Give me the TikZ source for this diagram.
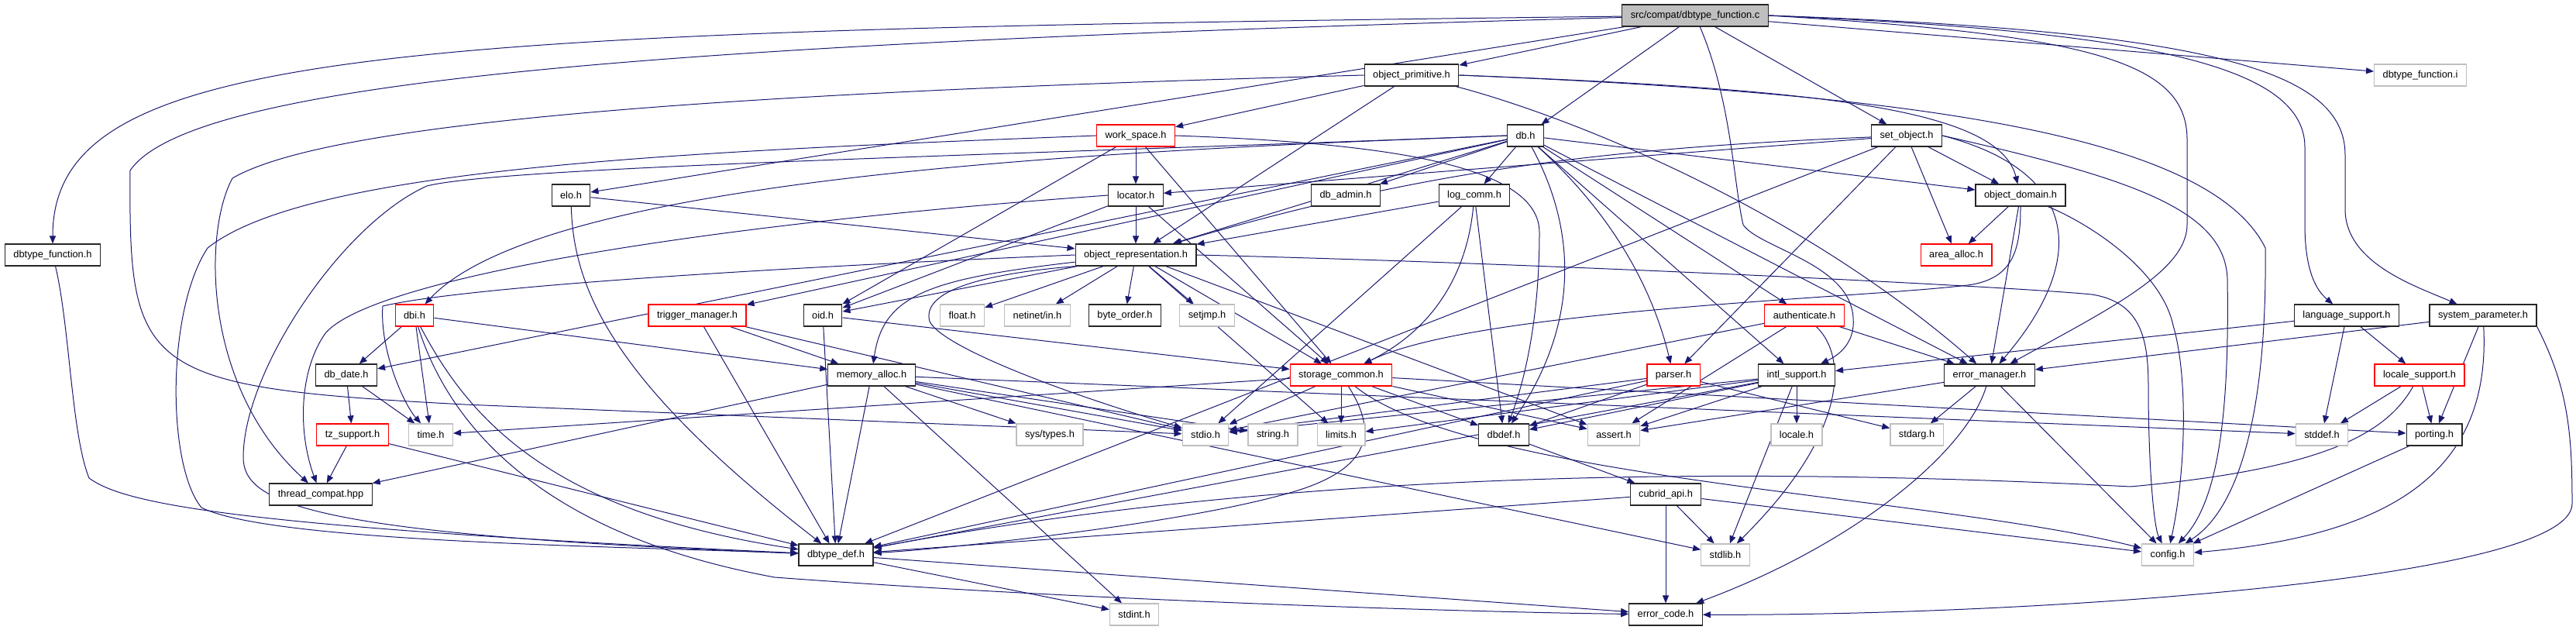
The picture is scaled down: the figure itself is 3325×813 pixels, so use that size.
\documentclass[tikz,border=0pt]{standalone}
\usepackage{fontspec}
\setmainfont{Liberation Sans}
\usepackage{xcolor}
\definecolor{incblue}{RGB}{25,25,112}
\definecolor{boxred}{RGB}{255,0,0}
\definecolor{boxgray}{RGB}{191,191,191}
\usepackage{tikz}
\usetikzlibrary{arrows.meta, backgrounds}

\tikzset{
  hdr/.style={draw=black!85, fill=white, line width=1.2pt, minimum height=28pt,
              inner xsep=11pt, inner ysep=0pt, font=\fontsize{12.8}{14}\selectfont},
  redhdr/.style={hdr, draw=boxred},
  syshdr/.style={hdr, draw=boxgray},
  inc/.style={-{Triangle[length=10pt,width=8pt]}, incblue, line width=1pt}
}

\begin{document}
\begin{tikzpicture}[x=1pt,y=1pt]
  \useasboundingbox (0,0) rectangle (3325,-813);

  % headers, row by row
  \node[hdr, fill=boxgray] (root) at (2188,-20) {src/compat/dbtype\_function.c};

  \node[hdr]    (objprim)   at (1822,-97)  {object\_primitive.h};
  \node[syshdr] (dbtfi)     at (3124,-97)  {dbtype\_function.i};

  \node[redhdr] (workspace) at (1466,-175) {work\_space.h};
  \node[hdr]    (db)        at (1969,-175) {db.h};
  \node[hdr]    (setobj)    at (2461,-175) {set\_object.h};

  \node[hdr]    (elo)       at (737,-252)  {elo.h};
  \node[hdr]    (locator)   at (1466,-252) {locator.h};
  \node[hdr]    (dbadmin)   at (1737,-252) {db\_admin.h};
  \node[hdr]    (logcomm)   at (1903,-252) {log\_comm.h};
  \node[hdr]    (objdomain) at (2608,-252) {object\_domain.h};

  \node[hdr]    (dbtfh)     at (68,-329)   {dbtype\_function.h};
  \node[hdr]    (objrep)    at (1466,-329) {object\_representation.h};
  \node[redhdr] (areaalloc) at (2525,-329) {area\_alloc.h};

  \node[redhdr] (dbi)       at (535,-407)  {dbi.h};
  \node[redhdr] (trigger)   at (900,-407)  {trigger\_manager.h};
  \node[hdr]    (oid)       at (1062,-407) {oid.h};
  \node[syshdr] (floath)    at (1242,-407) {float.h};
  \node[syshdr] (netinet)   at (1339,-407) {netinet/in.h};
  \node[hdr]    (byteorder) at (1452,-407) {byte\_order.h};
  \node[syshdr] (setjmp)    at (1558,-407) {setjmp.h};
  \node[redhdr] (authen)    at (2329,-407) {authenticate.h};
  \node[hdr]    (langsup)   at (3029,-407) {language\_support.h};
  \node[hdr]    (syspar)    at (3205,-407) {system\_parameter.h};

  \node[hdr]    (dbdate)    at (447,-484)  {db\_date.h};
  \node[hdr]    (memalloc)  at (1125,-484) {memory\_alloc.h};
  \node[redhdr] (storage)   at (1731,-484) {storage\_common.h};
  \node[redhdr] (parser)    at (2160,-484) {parser.h};
  \node[hdr]    (intlsup)   at (2319,-484) {intl\_support.h};
  \node[hdr]    (errmgr)    at (2568,-484) {error\_manager.h};
  \node[redhdr] (localesup) at (3123,-484) {locale\_support.h};

  \node[redhdr] (tzsup)     at (455,-561)  {tz\_support.h};
  \node[syshdr] (timeh)     at (556,-561)  {time.h};
  \node[syshdr] (systypes)  at (1355,-561) {sys/types.h};
  \node[syshdr] (stdio)     at (1556,-561) {stdio.h};
  \node[syshdr] (stringh)   at (1643,-561) {string.h};
  \node[syshdr] (limits)    at (1731,-561) {limits.h};
  \node[hdr]    (dbdef)     at (1941,-561) {dbdef.h};
  \node[syshdr] (asserth)   at (2083,-561) {assert.h};
  \node[syshdr] (localeh)   at (2319,-561) {locale.h};
  \node[syshdr] (stdarg)    at (2474,-561) {stdarg.h};
  \node[syshdr] (stddefh)   at (2997,-561) {stddef.h};
  \node[hdr]    (porting)   at (3142,-561) {porting.h};

  \node[hdr]    (threadc)   at (414,-638)  {thread\_compat.hpp};
  \node[hdr]    (cubridapi) at (2150,-638) {cubrid\_api.h};

  \node[hdr]    (dbtypedef) at (1079,-716) {dbtype\_def.h};
  \node[syshdr] (stdlib)    at (2227,-716) {stdlib.h};
  \node[syshdr] (config)    at (2798,-716) {config.h};

  \node[syshdr] (stdint)    at (1464,-793) {stdint.h};
  \node[hdr]    (errcode)   at (2150,-793) {error\_code.h};

  \begin{scope}[on background layer]
    % the source file
    \draw[inc] (root) .. controls (500,-40) and (68,-60) .. (dbtfh);
    \draw[inc] (root) .. controls (900,-55) and (250,-100) .. (168,-220)
               .. controls (166,-480) and (180,-500) .. (600,-522) -- (stdio);
    \draw[inc] (root) -- (elo);
    \draw[inc] (root) -- (objprim);
    \draw[inc] (root) -- (db);
    \draw[inc] (root) -- (setobj);
    \draw[inc] (root) -- (dbtfi);
    \draw[inc] (root.east) .. controls (2750,-40) and (2975,-80) .. (2975,-190) -- (2975,-290)
               .. controls (2975,-350) and (2990,-375) .. (langsup);
    \draw[inc] (root.east) .. controls (2850,-40) and (3027,-90) .. (3027,-200) -- (3027,-270)
               .. controls (3027,-340) and (3120,-370) .. (syspar);
    \draw[inc] (root.east) .. controls (2700,-45) and (2823,-80) .. (2823,-180) -- (2823,-290)
               .. controls (2823,-350) and (2720,-400) .. (errmgr);
    \draw[inc] (root) .. controls (2235,-130) and (2238,-240) .. (2250,-290)
               .. controls (2270,-320) and (2388,-340) .. (2392,-410)
               .. controls (2395,-445) and (2370,-460) .. (intlsup);

    % object_primitive.h
    \draw[inc] (objprim) -- (workspace);
    \draw[inc] (objprim) -- (objrep);
    \draw[inc] (objprim.east) .. controls (2350,-115) and (2580,-140) .. (objdomain);
    \draw[inc] (objprim.east) .. controls (2450,-120) and (2850,-170) .. (2924,-320)
               .. controls (2926,-500) and (2900,-650) .. (config);
    \draw[inc] (objprim.west) .. controls (900,-120) and (420,-160) .. (300,-230)
               .. controls (262,-300) and (262,-500) .. (threadc);
    \draw[inc] (objprim) .. controls (1990,-140) and (2300,-250) .. (errmgr);

    % work_space.h
    \draw[inc] (workspace) -- (locator);
    \draw[inc] (workspace) -- (oid);
    \draw[inc] (workspace) -- (storage);
    \draw[inc] (workspace.east) .. controls (1800,-185) and (1987,-215) .. (1987,-300)
               .. controls (1987,-420) and (1965,-500) .. (dbdef);
    \draw[inc] (workspace.west) .. controls (900,-195) and (400,-215) .. (268,-320)
               .. controls (215,-400) and (215,-600) .. (260,-655)
               .. controls (350,-700) and (800,-705) .. (dbtypedef);

    % db.h
    \draw[inc] (db) -- (dbadmin);
    \draw[inc] (db) -- (logcomm);
    \draw[inc] (db) -- (objrep);
    \draw[inc] (db) -- (objdomain);
    \draw[inc] (db) -- (authen);
    \draw[inc] (db) -- (intlsup);
    \draw[inc] (db) -- (errmgr);
    \draw[inc] (db) -- (trigger);
    \draw[inc] (db) -- (dbdate);
    \draw[inc] (db) .. controls (2071,-267) and (2130,-360) .. (parser);
    \draw[inc] (db) .. controls (2037,-300) and (2037,-420) .. (dbdef);
    \draw[inc] (db.west) .. controls (1400,-195) and (700,-230) .. (dbi);
    \draw[inc] (db.west) .. controls (1300,-200) and (650,-215) .. (551,-240)
               .. controls (440,-290) and (314,-480) .. (314,-590)
               .. controls (314,-650) and (400,-690) .. (dbtypedef);

    % set_object.h
    \draw[inc] (setobj) -- (objdomain);
    \draw[inc] (setobj) -- (areaalloc);
    \draw[inc] (setobj) -- (locator);
    \draw[inc] (setobj) .. controls (2100,-190) and (1850,-215) .. (objrep);
    \draw[inc] (setobj) -- (parser);
    \draw[inc] (setobj) -- (dbtypedef);
    \draw[inc] (setobj.east) .. controls (2680,-220) and (2700,-330) .. (errmgr);
    \draw[inc] (setobj.east) .. controls (2750,-230) and (2872,-270) .. (2875,-360)
               .. controls (2878,-550) and (2860,-650) .. (config);

    % elo.h, locator.h, log_comm.h
    \draw[inc] (elo) -- (objrep);
    \draw[inc] (elo) .. controls (740,-380) and (800,-500) .. (dbtypedef);
    \draw[inc] (locator) -- (objrep);
    \draw[inc] (locator) -- (oid);
    \draw[inc] (locator) -- (storage);
    \draw[inc] (locator.west) .. controls (900,-290) and (480,-360) .. (420,-430)
               .. controls (385,-480) and (385,-560) .. (threadc);
    \draw[inc] (logcomm) -- (objrep);
    \draw[inc] (logcomm) -- (stdio);
    \draw[inc] (logcomm) -- (dbdef);
    \draw[inc] (logcomm) .. controls (1895,-340) and (1860,-420) .. (storage);

    % object_domain.h
    \draw[inc] (objdomain) -- (areaalloc);
    \draw[inc] (objdomain) -- (errmgr);
    \draw[inc] (objdomain) .. controls (2700,-290) and (2790,-350) .. (2805,-420)
               .. controls (2823,-480) and (2823,-600) .. (config);
    \draw[inc] (objdomain) .. controls (2608,-320) and (2600,-360) .. (2540,-368)
               .. controls (2400,-385) and (1900,-400) .. (storage);

    % object_representation.h
    \draw[inc] (objrep) -- (floath);
    \draw[inc] (objrep) -- (netinet);
    \draw[inc] (objrep) -- (byteorder);
    \draw[inc] (objrep) -- (setjmp);
    \draw[inc] (objrep) -- (oid);
    \draw[inc] (objrep) -- (storage);
    \draw[inc] (objrep) -- (asserth);
    \draw[inc] (objrep) -- (limits);
    \draw[inc] (objrep) .. controls (1200,-360) and (1140,-380) .. (memalloc);
    \draw[inc] (objrep.south west) .. controls (1250,-355) and (1190,-380) .. (1200,-415)
               .. controls (1215,-445) and (1350,-500) .. (stdio);
    \draw[inc] (objrep.west) .. controls (1000,-345) and (600,-370) .. (494,-395)
               .. controls (490,-450) and (520,-520) .. (timeh);
    \draw[inc] (objrep.east) .. controls (2000,-340) and (2600,-370) .. (2700,-380)
               .. controls (2765,-390) and (2773,-440) .. (2773,-500)
               .. controls (2773,-600) and (2780,-680) .. (config);

    % dbtype_function.h, dbi.h
    \draw[inc] (dbtfh) .. controls (90,-420) and (92,-560) .. (115,-617)
               .. controls (160,-650) and (300,-680) .. (dbtypedef);
    \draw[inc] (dbi) -- (dbdate);
    \draw[inc] (dbi) -- (timeh);
    \draw[inc] (dbi) -- (memalloc);
    \draw[inc] (dbi) .. controls (600,-530) and (700,-660) .. (dbtypedef);
    \draw[inc] (dbi) .. controls (580,-550) and (700,-690) .. (1000,-745)
               .. controls (1400,-775) and (1900,-790) .. (errcode);

    % trigger_manager.h, oid.h, authenticate.h
    \draw[inc] (trigger) -- (memalloc);
    \draw[inc] (trigger) -- (dbtypedef);
    \draw[inc] (trigger) -- (stdio);
    \draw[inc] (oid) -- (storage);
    \draw[inc] (oid) -- (dbtypedef);
    \draw[inc] (authen) -- (errmgr);
    \draw[inc] (authen) -- (stdio);
    \draw[inc] (authen) -- (asserth);
    \draw[inc] (authen) .. controls (2385,-460) and (2385,-560) .. (stdlib);

    % language_support.h, system_parameter.h
    \draw[inc] (langsup) -- (intlsup);
    \draw[inc] (langsup) -- (localesup);
    \draw[inc] (langsup) -- (stddefh);
    \draw[inc] (syspar) -- (errmgr);
    \draw[inc] (syspar) -- (porting);
    \draw[inc] (syspar) .. controls (3215,-600) and (3100,-690) .. (config);
    \draw[inc] (syspar.south east) .. controls (3315,-500) and (3320,-560) .. (3320,-650)
               .. controls (3320,-750) and (2600,-795) .. (errcode);

    % db_date.h, memory_alloc.h
    \draw[inc] (dbdate) -- (tzsup);
    \draw[inc] (dbdate) -- (timeh);
    \draw[inc] (memalloc) -- (dbtypedef);
    \draw[inc] (memalloc) -- (stdint);
    \draw[inc] (memalloc) -- (systypes);
    \draw[inc] (memalloc) -- (stdio);
    \draw[inc] (memalloc) -- (threadc);
    \draw[inc] (memalloc) -- (stringh);
    \draw[inc] (memalloc) -- (stdlib);
    \draw[inc] (memalloc) -- (stddefh);

    % storage_common.h
    \draw[inc] (storage) -- (stdio);
    \draw[inc] (storage) -- (limits);
    \draw[inc] (storage) -- (dbdef);
    \draw[inc] (storage) -- (asserth);
    \draw[inc] (storage) -- (porting);
    \draw[inc] (storage) -- (timeh);
    \draw[inc] (storage) .. controls (1900,-620) and (2500,-640) .. (config);
    \draw[inc] (storage) .. controls (1780,-560) and (1770,-610) .. (1650,-640)
               .. controls (1500,-680) and (1200,-710) .. (dbtypedef);

    % parser.h, intl_support.h
    \draw[inc] (parser) -- (stdio);
    \draw[inc] (parser) -- (dbdef);
    \draw[inc] (parser) -- (dbtypedef);
    \draw[inc] (parser) -- (stdarg);
    \draw[inc] (intlsup) -- (localeh);
    \draw[inc] (intlsup) -- (stdlib);
    \draw[inc] (intlsup) -- (stdio);
    \draw[inc] (intlsup) -- (dbdef);
    \draw[inc] (intlsup) -- (asserth);
    \draw[inc] (intlsup) -- (dbtypedef);
    \draw[inc] (intlsup) -- (limits);

    % error_manager.h, locale_support.h, porting.h
    \draw[inc] (errmgr) -- (stdarg);
    \draw[inc] (errmgr) -- (config);
    \draw[inc] (errmgr) -- (asserth);
    \draw[inc] (errmgr) .. controls (2540,-580) and (2400,-700) .. (errcode);
    \draw[inc] (localesup) -- (stddefh);
    \draw[inc] (localesup) -- (porting);
    \draw[inc] (localesup) .. controls (3080,-560) and (3000,-605) .. (2750,-628)
               .. controls (2300,-605) and (1700,-600) .. (dbtypedef);
    \draw[inc] (porting) -- (config);

    % lower rows
    \draw[inc] (tzsup) -- (threadc);
    \draw[inc] (tzsup) -- (dbtypedef);
    \draw[inc] (dbdef) -- (cubridapi);
    \draw[inc] (cubridapi) -- (errcode);
    \draw[inc] (cubridapi) -- (stdlib);
    \draw[inc] (cubridapi) -- (config);
    \draw[inc] (cubridapi) -- (dbtypedef);
    \draw[inc] (dbtypedef) -- (stdint);
    \draw[inc] (dbtypedef) -- (errcode);
  \end{scope}
\end{tikzpicture}
\end{document}
